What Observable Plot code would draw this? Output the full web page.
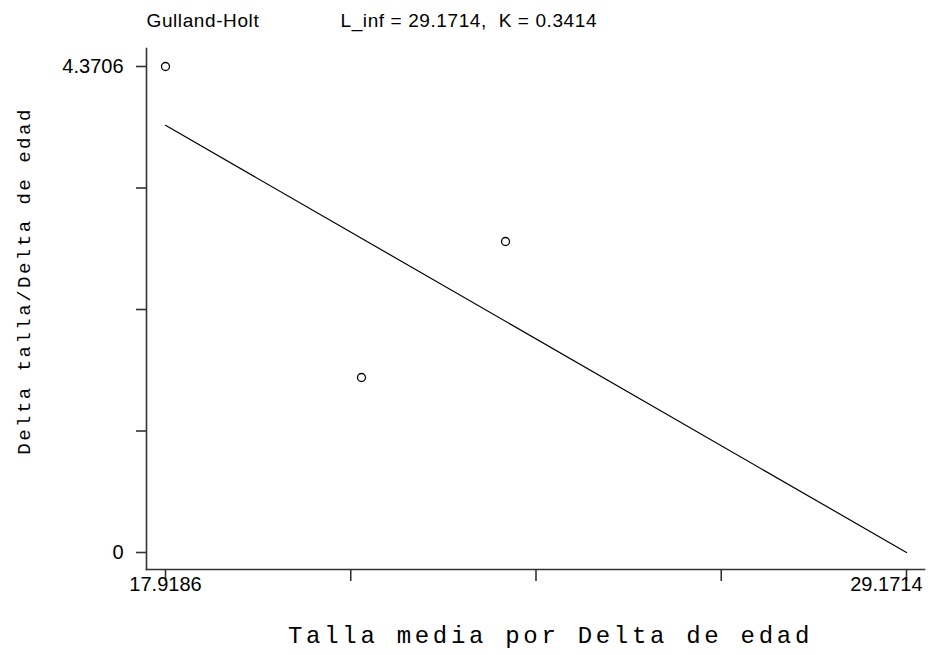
<!DOCTYPE html>
<html><head><meta charset="utf-8">
<script src="https://cdn.jsdelivr.net/npm/d3@7"></script>
<script src="https://cdn.jsdelivr.net/npm/@observablehq/plot@0.6"></script>
<style>
body{margin:0;background:#fff}
svg{white-space:pre}
</style>
</head><body><div id="chart"></div>
<script>
// data
const pointX = [17.9186, 20.895, 23.082];
const pointY = [4.3706, 1.574, 2.797];
const Linf = 29.1714;
const K = 0.3414;
const xDomain = [17.9186, 29.1714];
const yDomain = [0, 4.3706];
const xTickValues = [17.9186, 20.7318, 23.545, 26.3582, 29.1714];
const xTickLabelValues = [17.9186, 29.1714];
const xTickLabels = ["17.9186", "29.1714"];
const yTickValues = [0, 1.09265, 2.1853, 3.27795, 4.3706];
const yTickLabelValues = [0, 4.3706];
const yTickLabels = ["0", "4.3706"];
const titleLeft = "Gulland-Holt";
const titleRight = "L_inf = 29.1714,  K = 0.3414";
const xLabel = "Talla media por Delta de edad";
const yLabel = "Delta talla/Delta de edad";

const points = pointX.map((x, i) => ({x, y: pointY[i]}));
const fit = [xDomain[0], Linf].map(x => ({x, y: K * (Linf - x)}));

const sans = "'Liberation Sans', Arial, sans-serif";
const mono = "'Liberation Mono', 'Courier New', monospace";
const axisColor = "#333";

const plot = Plot.plot({
  width: 929,
  height: 655,
  marginLeft: 146,
  marginRight: 5,
  marginTop: 48,
  marginBottom: 86,
  style: {fontFamily: sans, background: "#fff", color: "#000", overflow: "visible"},
  x: {domain: xDomain, insetLeft: 19, insetRight: 18},
  y: {domain: yDomain, insetTop: 18, insetBottom: 17},
  marks: [
    Plot.frame({anchor: "left", stroke: axisColor, strokeWidth: 1.6}),
    Plot.frame({anchor: "bottom", stroke: axisColor, strokeWidth: 1.6}),
    Plot.axisX({ticks: xTickValues, tickSize: 12, tickFormat: () => "", stroke: axisColor, strokeWidth: 1.6, label: null}),
    Plot.axisY({ticks: yTickValues, tickSize: 10, tickFormat: () => "", stroke: axisColor, strokeWidth: 1.6, label: null}),
    Plot.text(yTickLabelValues, {y: d => d, text: (d, i) => yTickLabels[i], frameAnchor: "left", textAnchor: "end", dx: -23, fontSize: 20, fill: "#000"}),
    Plot.text([xTickLabelValues[0]], {x: d => d, text: () => xTickLabels[0], frameAnchor: "bottom", textAnchor: "middle", dy: 21, fontSize: 20, fill: "#000"}),
    Plot.text([xTickLabelValues[1]], {x: d => d, text: () => xTickLabels[1], frameAnchor: "bottom", textAnchor: "end", dx: 16, dy: 21, fontSize: 20, fill: "#000"}),
    Plot.line(fit, {x: "x", y: "y", stroke: "#000", strokeWidth: 1.2}),
    Plot.dot(points, {x: "x", y: "y", r: 4, stroke: "#000", strokeWidth: 1.3, fill: "none"}),
    Plot.text([titleLeft], {text: d => d, frameAnchor: "top-left", textAnchor: "start", dy: -35, fontSize: 19, fill: "#000"}),
    Plot.text([titleRight], {text: d => d, frameAnchor: "top-left", textAnchor: "start", dx: 194, dy: -35, fontSize: 19, fill: "#000"}),
    Plot.text([xLabel], {text: d => d, frameAnchor: "bottom", textAnchor: "middle", dx: 15, dy: 73, fontSize: 24, fontFamily: mono, fill: "#000"}),
    Plot.text([yLabel], {text: d => d, frameAnchor: "left", textAnchor: "middle", rotate: -90, dx: -123, dy: -28, fontSize: 19, fontFamily: mono, fill: "#000"})
  ]
});
plot.querySelectorAll("text").forEach(t => {
  const s = t.textContent;
  if (s === xLabel) t.style.letterSpacing = "3.7px";
  if (s === yLabel) t.style.letterSpacing = "2.5px";
  if (s === titleLeft || s === titleRight) t.style.letterSpacing = "0.6px";
});
document.getElementById("chart").append(plot);
</script>
</body></html>
